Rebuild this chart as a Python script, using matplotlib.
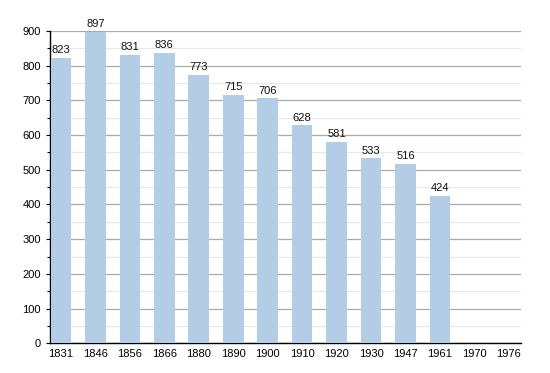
import matplotlib
matplotlib.use("Agg")
import matplotlib.pyplot as plt
import numpy as np

plt.rcParams["font.family"] = ["Liberation Sans", "DejaVu Sans"]

years = ["1831", "1846", "1856", "1866", "1880", "1890", "1900", "1910", "1920", "1930", "1947", "1961", "1970", "1976"]
population = [823, 897, 831, 836, 773, 715, 706, 628, 581, 533, 516, 424, None, None]

fig = plt.figure(figsize=(5.5, 3.73), dpi=100)
ax = fig.add_axes([0.0909, 0.0796, 0.947 - 0.0909, 0.917 - 0.0796])

x = np.arange(len(years))
vals = [v if v is not None else 0 for v in population]
bars = ax.bar(x, vals, width=0.6, color="#b3cde6", zorder=3)
for xi, v in zip(x, population):
    if v is not None:
        ax.text(xi, v + 8, str(v), ha="center", va="bottom", fontsize=8, color="#111111", zorder=4)

ax.set_xlim(-0.32, len(years) - 1 + 0.35)
ax.set_ylim(0, 900)
ax.set_xticks(x)
ax.set_xticklabels(years, fontsize=8)
ax.set_yticks(np.arange(0, 901, 100))
ax.set_yticks(np.arange(50, 900, 100), minor=True)
ax.tick_params(axis="y", which="major", labelsize=8, length=3, width=0.8)
ax.tick_params(axis="y", which="minor", length=2, width=0.8)
ax.tick_params(axis="x", length=0, pad=4)
ax.grid(axis="y", which="major", color="#aaaaaa", linewidth=0.9, zorder=1)
ax.grid(axis="y", which="minor", color="#e8e8e8", linewidth=0.9, zorder=1)
ax.set_axisbelow(True)
for s in ["top", "right"]:
    ax.spines[s].set_visible(False)
ax.spines["left"].set_linewidth(1.0)
ax.spines["bottom"].set_linewidth(1.0)

fig.savefig("out.png", dpi=100)
